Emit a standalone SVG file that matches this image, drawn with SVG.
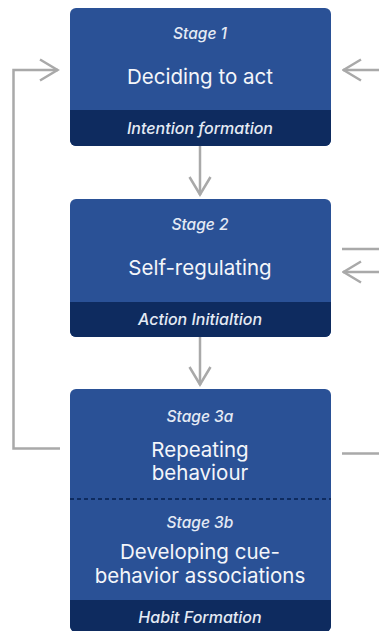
<svg xmlns="http://www.w3.org/2000/svg" width="379" height="631" viewBox="0 0 379 631">
  <style>
    .box { fill: #2a5196; }
    .foot { fill: #0e2b5f; }
    .stage { font-family: Inter, "Liberation Sans", sans-serif; font-style: italic; font-weight: 500; font-size: 15.5px; fill: #e4eaf4; text-anchor: middle; }
    .title { font-family: Inter, "Liberation Sans", sans-serif; font-weight: 400; font-size: 20.5px; fill: #f4f6fa; text-anchor: middle; }
    .ftxt { font-family: Inter, "Liberation Sans", sans-serif; font-style: italic; font-weight: 500; font-size: 16px; fill: #e4eaf4; text-anchor: middle; }
    .conn { fill: none; stroke: #a9a9a9; stroke-width: 2.5; }
  </style>
  <defs>
    <marker id="open" viewBox="0 0 21 24" refX="19.5" refY="12" markerWidth="21" markerHeight="24" markerUnits="userSpaceOnUse" orient="auto">
      <path d="M1.5,1.5 L19,12 L1.5,22.5" fill="none" stroke="#a9a9a9" stroke-width="2.5"/>
    </marker>
    <clipPath id="c1"><rect x="70" y="8" width="261" height="138" rx="6"/></clipPath>
    <clipPath id="c2"><rect x="70" y="199" width="261" height="138" rx="6"/></clipPath>
    <clipPath id="c3"><rect x="70" y="389" width="261" height="243" rx="6"/></clipPath>
  </defs>

  <g id="connectors">
    <!-- feedback loop from stage 3 back to stage 1 -->
    <path class="conn" d="M60,448.5 H13.5 V70 H58" marker-end="url(#open)"/>
    <!-- external input into stage 1 -->
    <path class="conn" d="M379,70 H343" marker-end="url(#open)"/>
    <!-- stage 1 to stage 2 -->
    <path class="conn" d="M200,146 V195" marker-end="url(#open)"/>
    <!-- side lines at stage 2 -->
    <path class="conn" d="M342,249 H379"/>
    <path class="conn" d="M379,272 H343" marker-end="url(#open)"/>
    <!-- stage 2 to stage 3 -->
    <path class="conn" d="M200,337 V385" marker-end="url(#open)"/>
    <!-- outgoing line at stage 3 -->
    <path class="conn" d="M342,453.5 H379"/>
  </g>

  <g id="stage1">
    <g clip-path="url(#c1)">
      <rect class="box" x="70" y="8" width="261" height="138"/>
      <rect class="foot" x="70" y="110" width="261" height="36"/>
    </g>
    <text class="stage" x="200" y="39">Stage 1</text>
    <text class="title" x="200" y="84">Deciding to act</text>
    <text class="ftxt" x="200" y="134">Intention formation</text>
  </g>

  <g id="stage2">
    <g clip-path="url(#c2)">
      <rect class="box" x="70" y="199" width="261" height="138"/>
      <rect class="foot" x="70" y="302" width="261" height="35"/>
    </g>
    <text class="stage" x="200" y="230">Stage 2</text>
    <text class="title" x="200" y="275">Self-regulating</text>
    <text class="ftxt" x="200" y="325">Action Initialtion</text>
  </g>

  <g id="stage3">
    <g clip-path="url(#c3)">
      <rect class="box" x="70" y="389" width="261" height="243"/>
      <rect class="foot" x="70" y="600" width="261" height="32"/>
    </g>
    <line x1="70" y1="499" x2="331" y2="499" stroke="#0e2b5f" stroke-width="2" stroke-dasharray="4 3"/>
    <text class="stage" x="200" y="422">Stage 3a</text>
    <text class="title" x="200" y="457">Repeating</text>
    <text class="title" x="200" y="480">behaviour</text>
    <text class="stage" x="200" y="528">Stage 3b</text>
    <text class="title" x="200" y="559">Developing cue-</text>
    <text class="title" x="200" y="583">behavior associations</text>
    <text class="ftxt" x="200" y="623">Habit Formation</text>
  </g>
</svg>
